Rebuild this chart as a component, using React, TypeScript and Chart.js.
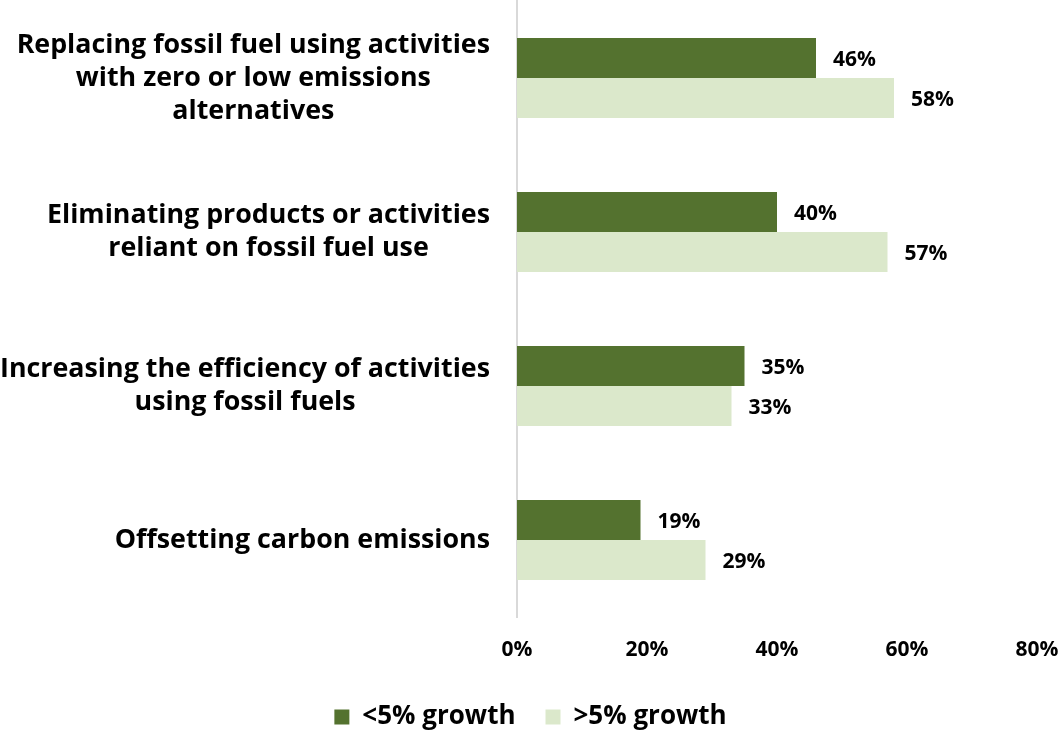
import { useEffect, useRef } from "react";
import { Chart, registerables } from "chart.js";

Chart.register(...registerables);

const categories: string[][] = [
  ["Replacing fossil fuel using activities", "with zero or low emissions", "alternatives"],
  ["Eliminating products or activities", "reliant on fossil fuel use"],
  ["Increasing the efficiency of activities", "using fossil fuels"],
  ["Offsetting carbon emissions"],
];
const seriesNames = ["<5% growth", ">5% growth"];
const lowGrowth = [46, 40, 35, 19];
const highGrowth = [58, 57, 33, 29];
const xTickValues = [0, 20, 40, 60, 80];

const FONT = "'Open Sans', Lato, sans-serif";
const DARK = "#54722f";
const LIGHT = "#dbe8cb";

const yLabelPlugin = {
  id: "yLabelsCentered",
  afterDraw(chart: any) {
    const { ctx } = chart;
    const y = chart.scales.y;
    const right = y.right - 27;
    ctx.save();
    let size = 27;
    ctx.font = `bold ${size}px ${FONT}`;
    const widest = Math.max(...categories.flat().map((l) => ctx.measureText(l).width));
    if (widest > right) size = Math.floor((size * right) / widest * 10) / 10;
    ctx.font = `bold ${size}px ${FONT}`;
    ctx.fillStyle = "#000";
    ctx.textAlign = "center";
    ctx.textBaseline = "middle";
    const lh = 33;
    categories.forEach((lines, i) => {
      const cy = y.getPixelForTick(i);
      const maxW = Math.max(...lines.map((l) => ctx.measureText(l).width));
      const cx = right - maxW / 2;
      lines.forEach((l, j) => ctx.fillText(l, cx, cy + (j - (lines.length - 1) / 2) * lh));
    });
    ctx.restore();
  },
};

const valueLabelPlugin = {
  id: "valueLabels",
  afterDatasetsDraw(chart: any) {
    const { ctx } = chart;
    ctx.save();
    ctx.font = `bold 21px ${FONT}`;
    ctx.fillStyle = "#000";
    ctx.textAlign = "left";
    ctx.textBaseline = "middle";
    chart.data.datasets.forEach((ds: any, di: number) => {
      const meta = chart.getDatasetMeta(di);
      meta.data.forEach((bar: any, i: number) => {
        ctx.fillText(`${ds.data[i]}%`, bar.x + 17, bar.y + 2);
      });
    });
    ctx.restore();
  },
};

export default function App() {
  const ref = useRef<HTMLCanvasElement>(null);
  useEffect(() => {
    document.body.style.margin = "0";
    const chart = new Chart(ref.current!, {
      type: "bar",
      data: {
        labels: categories.map((c) => c.join(" ")),
        datasets: [
          {
            label: seriesNames[0],
            data: lowGrowth,
            backgroundColor: DARK,
            categoryPercentage: 0.52,
            barPercentage: 1,
          },
          {
            label: seriesNames[1],
            data: highGrowth,
            backgroundColor: LIGHT,
            categoryPercentage: 0.52,
            barPercentage: 1,
          },
        ],
      },
      options: {
        indexAxis: "y",
        responsive: false,
        animation: false,
        layout: { padding: { top: 1, right: 0, left: 0, bottom: -5 } },
        scales: {
          x: {
            min: xTickValues[0],
            max: xTickValues[xTickValues.length - 1],
            afterBuildTicks: (scale: any) => {
              scale.ticks = xTickValues.map((v) => ({ value: v }));
            },
            ticks: {
              callback: (v: any) => `${v}%`,
              font: { family: FONT, weight: "bold", size: 21 },
              color: "#000",
              padding: 12,
              maxRotation: 0,
            },
            grid: { display: false },
            border: { display: false },
            afterFit: (scale: any) => {
              scale.height = 57;
              scale.paddingRight = 24;
              scale.paddingLeft = 0;
            },
          },
          y: {
            grid: { display: false },
            border: { display: true, color: "#d9d9d9", width: 2 },
            ticks: { display: false },
            afterFit: (scale: any) => {
              scale.width = 517;
            },
          },
        },
        plugins: {
          legend: {
            position: "bottom",
            labels: {
              boxWidth: 15,
              boxHeight: 15,
              padding: 30,
              color: "#000",
              font: { family: FONT, weight: "bold", size: 26 },
            },
          },
          tooltip: { enabled: false },
        },
      },
      plugins: [yLabelPlugin, valueLabelPlugin],
    });
    return () => chart.destroy();
  }, []);
  return <canvas ref={ref} width={1061} height={735} />;
}
